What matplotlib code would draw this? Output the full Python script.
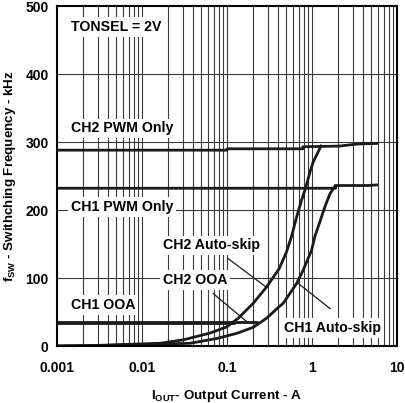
import matplotlib
matplotlib.use("Agg")
import matplotlib.pyplot as plt
import matplotlib.ticker as mticker

plt.rcParams['font.family'] = ['Liberation Sans', 'DejaVu Sans']
plt.rcParams['font.weight'] = 'bold'
plt.rcParams['mathtext.fontset'] = 'custom'
plt.rcParams['mathtext.rm'] = 'Liberation Sans:bold'
plt.rcParams['mathtext.bf'] = 'Liberation Sans:bold'
plt.rcParams['mathtext.it'] = 'Liberation Sans:bold'

# Data
ch2_pwm_x = [0.001, 0.1, 0.1, 0.78, 0.78, 2.1, 3.4, 6.0]
ch2_pwm_y = [288, 288, 290, 290, 293, 294, 297, 298]
ch1_pwm_x = [0.001, 1.9, 1.9, 4.5, 6.0]
ch1_pwm_y = [232, 232, 236, 236, 237]

ch2_auto_x = [0.001, 0.0032, 0.0055, 0.0163, 0.0306, 0.063, 0.099, 0.136, 0.204, 0.293,
              0.412, 0.50, 0.577, 0.66, 0.756, 0.85, 0.947, 1.036, 1.155, 1.30]
ch2_auto_y = [0, 1, 2, 4, 9, 19, 28, 41, 63, 87,
              114, 138, 162, 190, 215, 234, 256, 271, 283, 296]
ch1_auto_x = [0.001, 0.0032, 0.0055, 0.0177, 0.0367, 0.0757, 0.13, 0.204, 0.293, 0.412,
              0.46, 0.66, 0.79, 0.99, 1.08, 1.24, 1.42, 1.63, 1.91]
ch1_auto_y = [0, 0.5, 1.5, 3, 4, 11, 18.6, 27.5, 41, 58,
              63, 92, 112, 141, 161, 183, 205, 224, 237]

ch2_ooa_x = [0.001, 0.125]
ch2_ooa_y = [34, 34]
ch1_ooa_x = [0.001, 0.23]
ch1_ooa_y = [35, 35]

labels = ["TONSEL = 2V", "CH2 PWM Only", "CH1 PWM Only", "CH2 Auto-skip", "CH2 OOA", "CH1 OOA", "CH1 Auto-skip"]
label_x = [0.00146, 0.00146, 0.00146, 0.0177, 0.0177, 0.00146, 0.468]
label_y = [469, 320, 204, 148, 97, 60, 26]

leader_lines = [((0.102, 129), (0.293, 86)),
                ((0.069, 77), (0.17, 36)),
                ((0.69, 92), (1.63, 55))]

x_ticks = [0.001, 0.01, 0.1, 1, 10]
x_ticklabels = ['0.001', '0.01', '0.1', '1', '10']
y_ticks = [0, 100, 200, 300, 400, 500]

fig = plt.figure(figsize=(4.05, 4.03), dpi=100)
ax = fig.add_axes([57/405, 1 - 346/403, 340/405, 340/403])
ax.set_xscale('log')
ax.set_xlim(0.001, 10)
ax.set_ylim(0, 500)

# grid
gc = '#3a3a3a'
for dec in [0.001, 0.01, 0.1, 1]:
    for m in range(1, 10):
        xv = dec * m
        if xv <= 0.001 or xv >= 10:
            continue
        ax.axvline(xv, color=gc, lw=0.8, zorder=1)
for yv in [100, 200, 300, 400]:
    ax.axhline(yv, color=gc, lw=0.8, zorder=1)

lw = 2.0
for xs, ys in [(ch2_pwm_x, ch2_pwm_y), (ch1_pwm_x, ch1_pwm_y), (ch2_auto_x, ch2_auto_y),
               (ch1_auto_x, ch1_auto_y), (ch2_ooa_x, ch2_ooa_y), (ch1_ooa_x, ch1_ooa_y)]:
    ax.plot(xs, ys, color='#1a1a1a', lw=lw, zorder=4, solid_joinstyle='round',
            solid_capstyle='butt')

for (p0, p1) in leader_lines:
    ax.plot([p0[0], p1[0]], [p0[1], p1[1]], color='#1a1a1a', lw=0.9, zorder=4)

for t, xv, yv in zip(labels, label_x, label_y):
    ax.text(xv, yv, t, fontsize=10.2, fontweight='bold', ha='left', va='center', zorder=3,
            bbox=dict(boxstyle='square,pad=0.2', fc='white', ec='none'))

ax.set_xticks(x_ticks)
ax.set_xticklabels(x_ticklabels)
ax.set_yticks(y_ticks)
ax.xaxis.set_minor_locator(mticker.NullLocator())
ax.tick_params(axis='x', length=0, labelsize=10, pad=11)
ax.tick_params(axis='y', length=0, labelsize=10, pad=6)
for lab in ax.get_xticklabels() + ax.get_yticklabels():
    lab.set_fontweight('bold')
for s in ax.spines.values():
    s.set_linewidth(1.5)
    s.set_zorder(6)

ax.set_xlabel(r'I$_{\mathrm{OUT}}$- Output Current - A', fontsize=9.6, fontweight='bold', labelpad=9)
ax.set_ylabel(r'f$_{\mathrm{SW}}$ - Swithching Frequency - kHz', fontsize=9.6, fontweight='bold', labelpad=5)

fig.savefig('out.png', dpi=100)
